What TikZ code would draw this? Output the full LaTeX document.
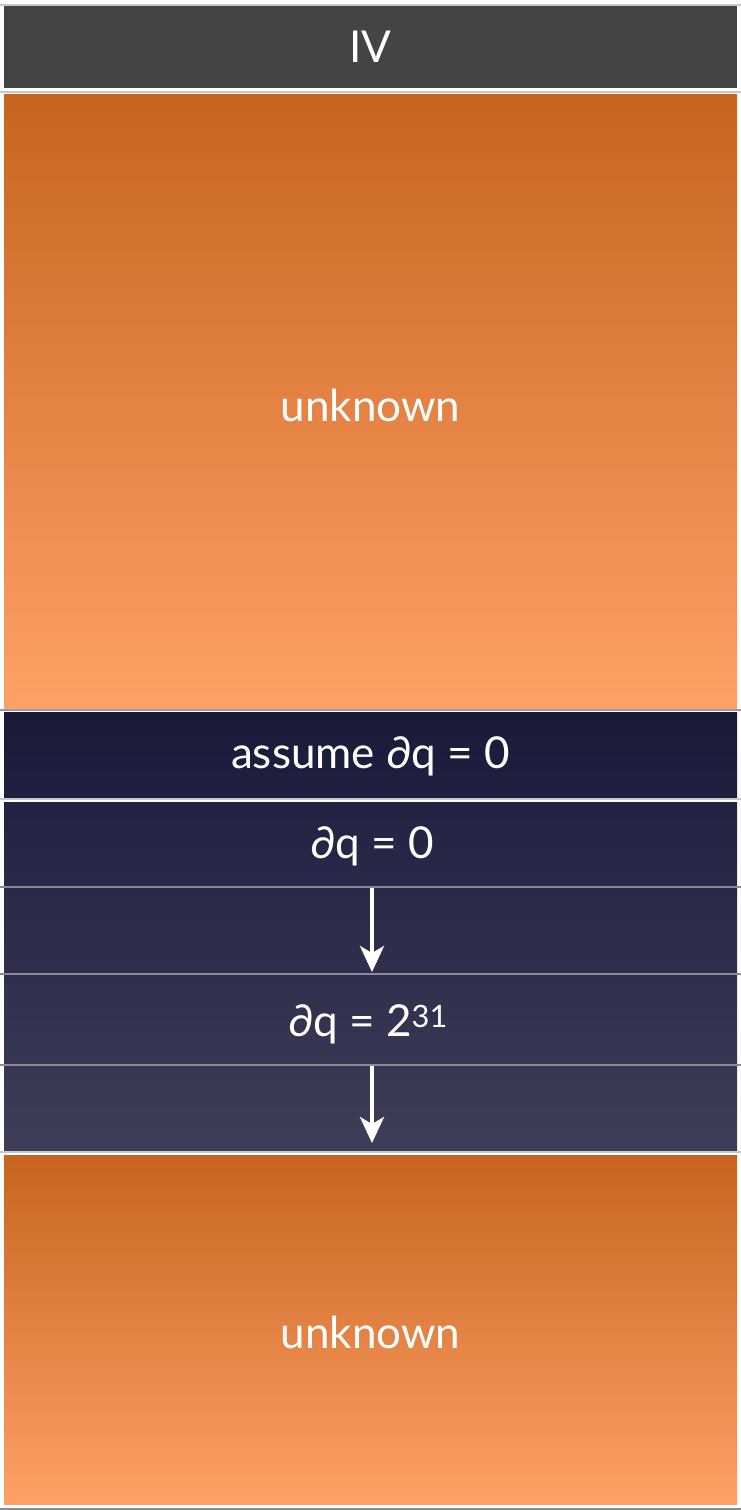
\documentclass[tikz,border=0pt]{standalone}
\usepackage{fontspec}
\setmainfont{Lato}
\usetikzlibrary{arrows.meta}
\definecolor{darkbar}{HTML}{444444}
\definecolor{orTop}{HTML}{C7641F}
\definecolor{orBot}{HTML}{FFA066}
\definecolor{nvA}{HTML}{1A1A38}
\definecolor{nvB}{HTML}{1F1F40}
\definecolor{nvC}{HTML}{222243}
\definecolor{nvD}{HTML}{3E3E58}
\definecolor{sepgray}{HTML}{9A9AA4}
\definecolor{sepdark}{HTML}{8A8A98}
\definecolor{seplight}{HTML}{C8C8CC}
\begin{document}
\begin{tikzpicture}[x=1pt,y=-1pt,
  panel/.style={inner sep=0pt, outer sep=0pt, minimum width=733pt, draw=none},
  lbl/.style={text=white, inner sep=0pt, font=\fontsize{44}{52}\selectfont},
  sepline/.style={line width=2pt},
  flow/.style={draw=white, line width=4pt, -{Stealth[width=24pt,length=26pt,inset=7pt]}}
]
\useasboundingbox (0,0) rectangle (741,1510);
\fill[white] (0,0) rectangle (741,1510);

% separator lines
\draw[sepline, seplight] (0,5) -- (741,5);
\draw[sepline, seplight] (0,92) -- (741,92);
\draw[sepline, sepgray] (0,710) -- (741,710);
\draw[sepline, seplight] (0,799) -- (741,799);
\draw[sepline, seplight] (0,1152) -- (741,1152);
\draw[sepline, sepdark] (0,1509) -- (741,1509);

% panels
\node[panel, fill=darkbar, minimum height=82pt] (ivbox) at (370.5,47) {};
\node[panel, top color=orTop, bottom color=orBot, minimum height=614pt] (unk1box) at (370.5,401) {};
\node[panel, top color=nvA, bottom color=nvB, minimum height=85pt] (assumebox) at (370.5,754.5) {};
\node[panel, top color=nvC, bottom color=nvD, minimum height=348pt] (navybox) at (370.5,976) {};
\node[panel, top color=orTop, bottom color=orBot, minimum height=349pt] (unk2box) at (370.5,1329.5) {};

% inner separator lines
\draw[sepline, sepdark] (0,887) -- (741,887);
\draw[sepline, sepdark] (0,974) -- (741,974);
\draw[sepline, sepdark] (0,1065) -- (741,1065);

% labels
\node[lbl] (iv) at (370.5,47) {IV};
\node[lbl] (unk1) at (370.5,405) {unknown};
\node[lbl] (assume) at (370.5,756) {assume ∂q = 0};
\node[lbl] (dq0) at (372,846) {∂q = 0};
\node[lbl] (dq31) at (368,1024) {∂q = 2\textsuperscript{31}};
\node[lbl] (unk2) at (370.5,1332) {unknown};

% arrows
\coordinate (a1s) at (372,888);
\coordinate (a1e) at (372,972);
\coordinate (a2s) at (372,1066);
\coordinate (a2e) at (372,1143);
\draw[flow] (a1s) -- (a1e);
\draw[flow] (a2s) -- (a2e);
\end{tikzpicture}
\end{document}
